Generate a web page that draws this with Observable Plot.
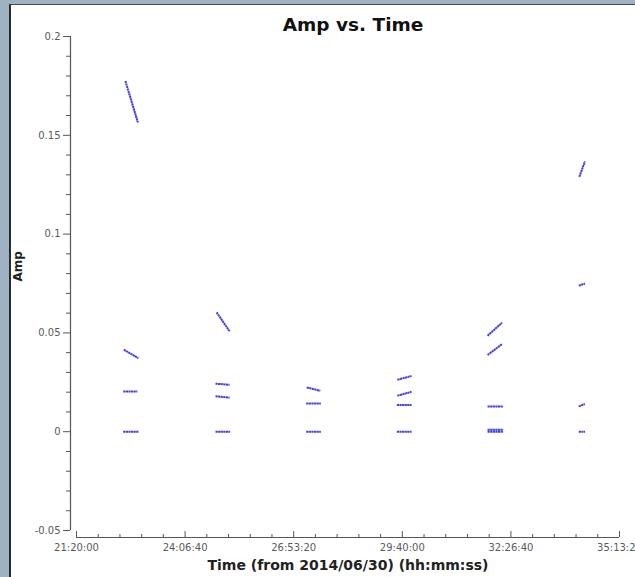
<!DOCTYPE html>
<html>
<head>
<meta charset="utf-8">
<script src="https://cdn.jsdelivr.net/npm/d3@7"></script>
<script src="https://cdn.jsdelivr.net/npm/@observablehq/plot@0.6"></script>
<style>
  html, body { margin: 0; padding: 0; }
  body { width: 635px; height: 577px; overflow: hidden; position: relative; background: #9fb2c3; font-family: "DejaVu Sans", sans-serif; }
  #panel { position: absolute; left: 9px; top: 4px; right: 0; bottom: 0; background: #ffffff; border-left: 2px solid #2a2a2a; border-top: 1px solid #4a4a4a; }
  #chart { position: absolute; left: 0; top: 0; }
  #chart svg { background: transparent !important; }
</style>
</head>
<body>
<div id="panel"></div>
<div id="chart"></div>
<script>
// ---- data (seconds from 2014/06/30 00:00:00, amplitude) ----
const segStart = [81300, 81150, 81100, 81100,
                  89700, 89600, 89600, 89600,
                  98000, 97950, 97950,
                  106350, 106350, 106300, 106300,
                  114650, 114650, 114650, 114650, 114650,
                  123100, 123050, 123050, 123050];
const segEnd   = [82450, 82500, 82400, 82500,
                  90900, 90900, 90900, 90950,
                  99250, 99300, 99300,
                  107650, 107650, 107650, 107650,
                  116000, 116000, 116100, 116100, 116100,
                  123620, 123620, 123600, 123620];
const ampStart = [0.1775, 0.0415, 0.0203, 0.0,
                  0.0604, 0.0243, 0.0179, 0.0,
                  0.0224, 0.0143, 0.0,
                  0.0263, 0.0182, 0.0135, 0.0,
                  0.0486, 0.0388, 0.0127, 0.0010, 0.0,
                  0.1290, 0.0739, 0.0128, 0.0];
const ampEnd   = [0.1565, 0.0372, 0.0203, 0.0,
                  0.0508, 0.0237, 0.0172, 0.0,
                  0.0207, 0.0143, 0.0,
                  0.0282, 0.0202, 0.0135, 0.0,
                  0.0552, 0.0444, 0.0127, 0.0010, 0.0,
                  0.1368, 0.0750, 0.0140, 0.0];

const xDomain = [76800, 126800];
const yDomain = [-0.05, 0.2];
const xMajor = [76800, 86800, 96800, 106800, 116800, 126800];
const xMinor = [78800, 80800, 82800, 84800, 88800, 90800, 92800, 94800, 98800, 100800, 102800, 104800,
                108800, 110800, 112800, 114800, 118800, 120800, 122800, 124800];
const yMajor = [-0.05, 0, 0.05, 0.1, 0.15, 0.2];
const yMinor = [-0.04, -0.03, -0.02, -0.01, 0.01, 0.02, 0.03, 0.04, 0.06, 0.07, 0.08, 0.09,
                0.11, 0.12, 0.13, 0.14, 0.16, 0.17, 0.18, 0.19];

const titleText = "Amp vs. Time";
const xLabel = "Time (from 2014/06/30) (hh:mm:ss)";
const yLabel = "Amp";

const segments = segStart.map((t, i) => ({t1: t, t2: segEnd[i], a1: ampStart[i], a2: ampEnd[i]}));

const pad = n => String(n).padStart(2, "0");
const hms = s => `${pad(Math.floor(s / 3600))}:${pad(Math.floor((s % 3600) / 60))}:${pad(s % 60)}`;
const yFmt = d => String(+d.toFixed(2));

const axisColor = "#555";
const textColor = "#5a5a5a";

const chart = Plot.plot({
  width: 635,
  height: 577,
  marginLeft: 76,
  marginRight: 16,
  marginTop: 36,
  marginBottom: 47,
  style: {background: "transparent", fontFamily: "DejaVu Sans, sans-serif"},
  x: {domain: xDomain, axis: null},
  y: {domain: yDomain, axis: null},
  marks: [
    // y axis
    Plot.ruleX([xDomain[0]], {y1: yDomain[0], y2: yDomain[1], dx: -6, stroke: axisColor, strokeWidth: 1.2}),
    Plot.axisY(yMajor, {tickSize: 7, dx: -6, tickPadding: 3, tickFormat: yFmt, fontSize: 10, fill: textColor, stroke: axisColor, label: null}),
    Plot.axisY(yMinor, {tickSize: 4, dx: -6, text: null, stroke: axisColor, label: null}),
    // x axis
    Plot.ruleY([yDomain[0]], {x1: xDomain[0], x2: xDomain[1], dy: 7, stroke: axisColor, strokeWidth: 1.2}),
    Plot.axisX(xMajor, {tickSize: 0, dy: 7, tickPadding: 6, tickFormat: hms, fontSize: 10, fill: textColor, label: null}),
    Plot.axisX(xMajor, {tickSize: -6, dy: 7, text: null, stroke: axisColor, label: null}),
    Plot.axisX(xMinor, {tickSize: -3, dy: 7, text: null, stroke: axisColor, label: null}),
    // data
    Plot.link(segments, {x1: "t1", y1: "a1", x2: "t2", y2: "a2", stroke: "#2a2ae0", strokeWidth: 2, strokeDasharray: "2.2,0.4", strokeOpacity: 0.9}),
    // titles
    Plot.text([titleText], {frameAnchor: "top", dx: 5, dy: -19, fontSize: 18.5, fontWeight: "bold", fill: "#111"}),
    Plot.text([xLabel], {frameAnchor: "bottom", dy: 39, fontSize: 14, fontWeight: "bold", fill: "#222"}),
    Plot.text([yLabel], {frameAnchor: "left", dx: -58, dy: -2, rotate: -90, fontSize: 12, fontWeight: "bold", fill: "#222"})
  ]
});
document.getElementById("chart").appendChild(chart);
</script>
</body>
</html>
